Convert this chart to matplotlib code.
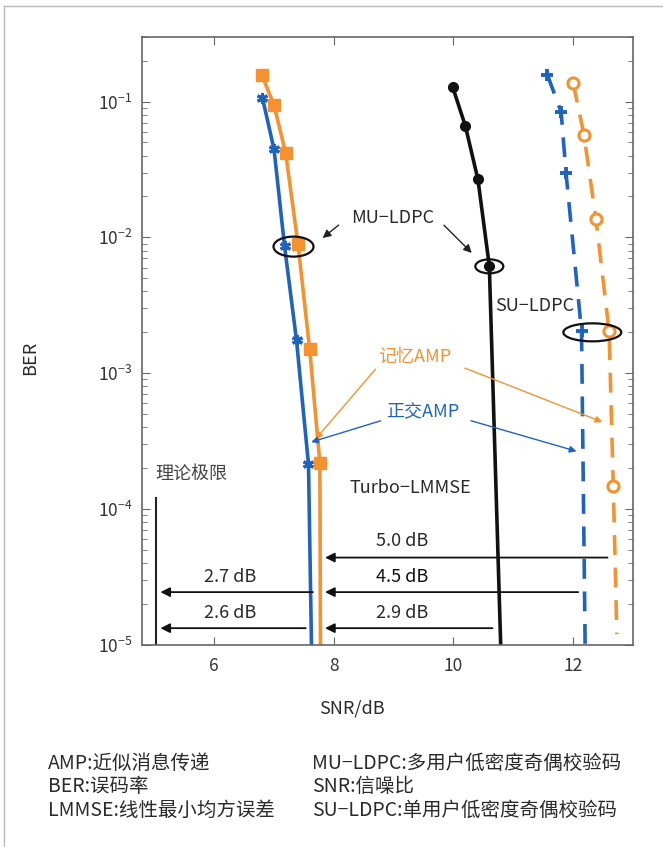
import matplotlib
matplotlib.use("Agg")
import matplotlib.pyplot as plt
from matplotlib.patches import Ellipse
from matplotlib.transforms import ScaledTranslation
from matplotlib.lines import Line2D

plt.rcParams['font.family'] = ['Noto Sans CJK SC', 'DejaVu Sans']
plt.rcParams['axes.unicode_minus'] = False

BLUE = "#1E64BE"
ORANGE = "#F5922F"

# MU-LDPC, orthogonal AMP
oamp_mu_snr = [6.81, 7.005, 7.18, 7.38, 7.58, 7.63]
oamp_mu_ber = [0.107, 0.0444, 0.00863, 0.00175, 2.14e-4, 1e-5]
# MU-LDPC, memory AMP
mamp_mu_snr = [6.80, 7.005, 7.20, 7.405, 7.60, 7.77, 7.78]
mamp_mu_ber = [0.157, 0.094, 0.0415, 0.0089, 0.0015, 2.2e-4, 1e-5]
# SU-LDPC, Turbo-LMMSE
lmmse_su_snr = [9.99, 10.2, 10.41, 10.6, 10.79]
lmmse_su_ber = [0.127, 0.066, 0.0267, 0.00616, 1e-5]
# SU-LDPC, orthogonal AMP
oamp_su_snr = [11.57, 11.8, 11.88, 12.14, 12.2]
oamp_su_ber = [0.157, 0.0834, 0.030, 0.00204, 1e-5]
# SU-LDPC, memory AMP
mamp_su_snr = [12.0, 12.18, 12.38, 12.6, 12.67, 12.73]
mamp_su_ber = [0.137, 0.057, 0.0137, 0.00204, 1.48e-4, 1.2e-5]

x_ticks = [6, 8, 10, 12]
gap_labels = ["5.0 dB", "4.5 dB", "2.7 dB", "2.6 dB", "2.9 dB"]

fig = plt.figure(figsize=(6.63, 8.47), dpi=100)
ax = fig.add_axes([0.2142, 0.2385, 0.7406, 0.7182])

lw = 2.6
ax.plot(oamp_mu_snr, oamp_mu_ber, color=BLUE, lw=lw, marker=(6, 2, 0), ms=8, mew=2.2,
        markevery=list(range(5)))
ax.plot(mamp_mu_snr, mamp_mu_ber, color=ORANGE, lw=lw, marker='s', ms=9,
        markevery=list(range(6)))
ax.plot(lmmse_su_snr, lmmse_su_ber, color='#111111', lw=lw, marker='o', ms=7,
        markevery=list(range(4)))
ax.plot(oamp_su_snr, oamp_su_ber, color=BLUE, lw=lw, ls=(0, (5.5, 3.5)), marker='+', ms=9, mew=2.8,
        markevery=list(range(4)))
ax.plot(mamp_su_snr, mamp_su_ber, color=ORANGE, lw=lw, ls=(0, (5.5, 3.5)), marker='o', ms=8,
        mfc='white', mew=2.2, markevery=list(range(5)))

ax.set_yscale('log')
ax.set_xlim(4.8, 13)
ax.set_ylim(1e-5, 0.3)
ax.set_xticks(x_ticks)
ax.tick_params(which='both', direction='in', top=True, right=True, colors='#666666',
               labelcolor='#333333', labelsize=12.5)
ax.tick_params(axis='x', which='major', pad=9)
ax.tick_params(axis='y', which='major', pad=7)
ax.tick_params(which='major', length=6)
ax.tick_params(which='minor', length=3.5)
for s in ax.spines.values():
    s.set_color('#666666')
    s.set_linewidth(1.2)

# ellipses
def ell(x, y, w, h):
    tr = fig.dpi_scale_trans + ScaledTranslation(x, y, ax.transData)
    ax.add_patch(Ellipse((0, 0), w, h, transform=tr, fill=False, ec='#111111', lw=1.6, zorder=5))

ell(7.33, 0.00855, 0.40, 0.20)
ell(10.6, 0.00612, 0.28, 0.14)
ell(12.32, 0.0020, 0.58, 0.18)

fs = 13
tc = '#2a2a2a'
ax.text(8.99, 0.0140, "MU−LDPC", ha='center', va='center', fontsize=fs, color=tc)
ap_k = dict(arrowstyle='-|>', color='#222222', lw=1.0, mutation_scale=12)
ax.annotate("", xy=(7.78, 0.0096), xytext=(8.12, 0.0127), arrowprops=ap_k)
ax.annotate("", xy=(10.34, 0.00743), xytext=(9.81, 0.0127), arrowprops=ap_k)
ax.text(10.7, 0.0031, "SU−LDPC", ha='left', va='center', fontsize=fs, color=tc)

ax.text(8.75, 0.00132, "记忆AMP", ha='left', va='center', fontsize=fs, color=ORANGE)
ap_o = dict(arrowstyle='-|>', color=ORANGE, lw=1.0, mutation_scale=10)
ax.annotate("", xy=(7.67, 3.17e-4), xytext=(8.73, 0.00111), arrowprops=ap_o)
ax.annotate("", xy=(12.53, 4.3e-4), xytext=(10.15, 0.00111), arrowprops=ap_o)

ax.text(8.87, 5.19e-4, "正交AMP", ha='left', va='center', fontsize=fs, color=BLUE)
ap_b = dict(arrowstyle='-|>', color=BLUE, lw=1.0, mutation_scale=10)
ax.annotate("", xy=(7.58, 3.07e-4), xytext=(8.83, 4.53e-4), arrowprops=ap_b)
ax.annotate("", xy=(12.1, 2.63e-4), xytext=(10.25, 4.53e-4), arrowprops=ap_b)

ax.text(5.03, 1.81e-4, "理论极限", ha='left', va='center', fontsize=fs, color='#444444')
ax.plot([5.03, 5.03], [1e-5, 1.21e-4], color='#222222', lw=1.5)
ax.text(9.28, 1.43e-4, "Turbo−LMMSE", ha='center', va='center', fontsize=fs, color=tc)

ap_d = dict(arrowstyle='-|>', color='#111111', lw=1.3, mutation_scale=14)
ax.annotate("", xy=(7.81, 4.4e-5), xytext=(12.62, 4.4e-5), arrowprops=ap_d)
ax.annotate("", xy=(7.81, 2.45e-5), xytext=(12.13, 2.45e-5), arrowprops=ap_d)
ax.annotate("", xy=(5.06, 2.45e-5), xytext=(7.70, 2.45e-5), arrowprops=ap_d)
ax.annotate("", xy=(5.06, 1.33e-5), xytext=(7.58, 1.33e-5), arrowprops=ap_d)
ax.annotate("", xy=(7.81, 1.33e-5), xytext=(10.70, 1.33e-5), arrowprops=ap_d)
ax.text(9.145, 5.85e-5, gap_labels[0], ha='center', va='center', fontsize=fs, color=tc)
ax.text(9.145, 3.14e-5, gap_labels[1], ha='center', va='center', fontsize=fs, color='#111111')
ax.text(6.27, 3.14e-5, gap_labels[2], ha='center', va='center', fontsize=fs, color=tc)
ax.text(6.27, 1.73e-5, gap_labels[3], ha='center', va='center', fontsize=fs, color=tc)
ax.text(9.145, 1.73e-5, gap_labels[4], ha='center', va='center', fontsize=fs, color=tc)

fig.text(0.045, 0.577, "BER", rotation=90, ha='center', va='center', fontsize=fs, color=tc)
fig.text(0.531, 0.164, "SNR/dB", ha='center', va='center', fontsize=fs, color=tc)

leg_left = ["AMP:近似消息传递", "BER:误码率", "LMMSE:线性最小均方误差"]
leg_right = ["MU−LDPC:多用户低密度奇偶校验码", "SNR:信噪比", "SU−LDPC:单用户低密度奇偶校验码"]
rows = [0.099, 0.071, 0.043]
for t, y in zip(leg_left, rows):
    fig.text(0.072, y, t, ha='left', va='center', fontsize=14, color=tc)
for t, y in zip(leg_right, rows):
    fig.text(0.470, y, t, ha='left', va='center', fontsize=14, color=tc)

fig.add_artist(Line2D([0.006, 1.0], [0.993, 0.993], transform=fig.transFigure, color='#bbbbbb', lw=1))
fig.add_artist(Line2D([0.006, 0.006], [0.0, 0.993], transform=fig.transFigure, color='#bbbbbb', lw=1))

fig.savefig("out.png", dpi=100)
